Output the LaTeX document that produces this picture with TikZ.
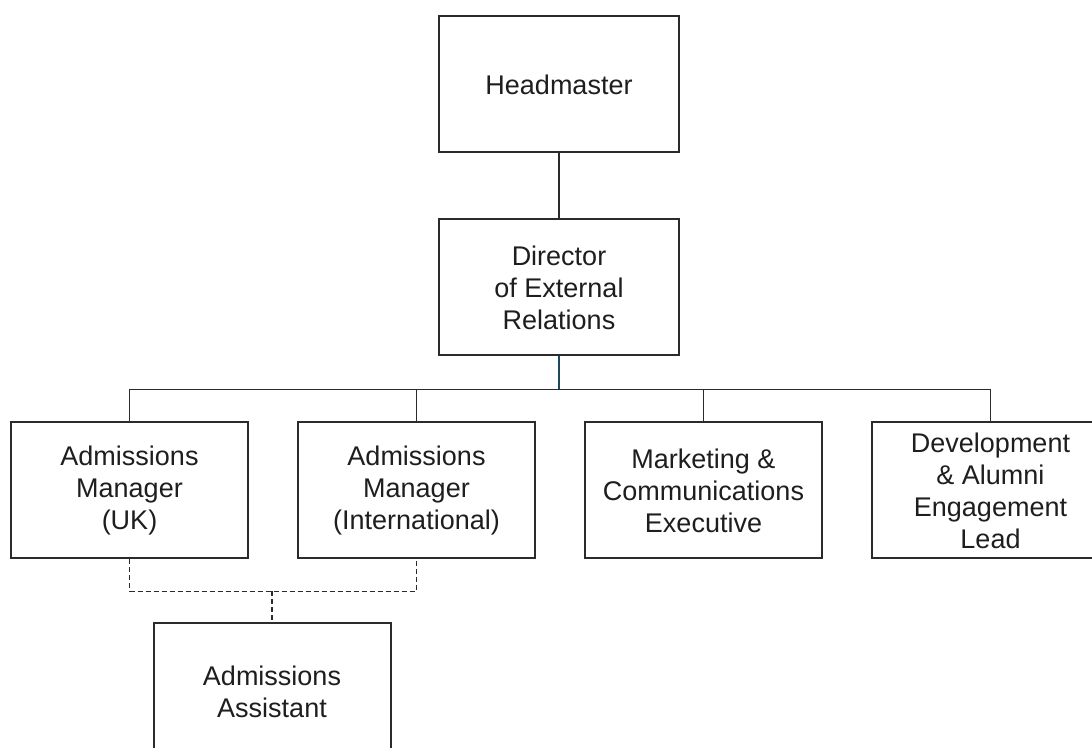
\documentclass[tikz,border=0pt]{standalone}
\usepackage{xcolor}
\usepackage{fontspec}
\setmainfont{Liberation Sans}
\usepackage{tikz}
\usetikzlibrary{positioning, calc}

\definecolor{boxline}{HTML}{2B2B2B}
\definecolor{textgrey}{HTML}{1E1E1E}
\definecolor{tealline}{HTML}{1C4A5C}

\begin{document}
\begin{tikzpicture}[x=1pt, y=1pt,
    orgbox/.style={draw=boxline, line width=2pt, fill=white, rectangle, minimum width=237pt, minimum height=136pt, align=center, inner sep=0pt, text=textgrey, font=\fontsize{27pt}{32pt}\selectfont},
    topbox/.style={orgbox, minimum width=240pt},
    orgline/.style={draw=boxline, line width=1.8pt},
    dashline/.style={draw=boxline, line width=1.5pt, dash pattern=on 5pt off 3pt}]

    \useasboundingbox (0,0) rectangle (1092,747);
    \clip (0,0) rectangle (1092,747);

    % Nodes
    \node[topbox] (head) at (559,662.5) {Headmaster};

    \node[topbox, below=65pt of head] (dir) {Director\\of External\\Relations};

    \node[orgbox, below=65pt of dir, xshift=-142.5pt] (intl) {Admissions\\Manager\\(International)};
    \node[orgbox, left=48pt of intl] (uk) {Admissions\\Manager\\(UK)};
    \node[orgbox, right=48pt of intl] (mkt) {Marketing \&\\Communications\\Executive};
    \node[orgbox, right=48pt of mkt] (dev) {Development\\\& Alumni\\Engagement\\Lead};

    \node[orgbox, below=63pt of uk, xshift=142.5pt] (asst) {Admissions\\Assistant};

    % Reporting lines
    \draw[orgline] (head) -- (dir);

    \coordinate (bus) at ([yshift=-33pt]dir.south);
    \draw[orgline] (uk.north) |- (bus) -| (dev.north);
    \foreach \n in {intl, mkt}
        \draw[orgline] (\n.north) -- (\n.north |- bus);
    \draw[line width=1.8pt, draw=tealline] (dir.south) -- (bus);

    % Shared assistant
    \coordinate (asstjoin) at ([yshift=-32pt]uk.south -| asst.north);
    \draw[dashline] (uk.south) |- (asstjoin) -| (intl.south);
    \draw[dashline] (asstjoin) -- (asst.north);

\end{tikzpicture}
\end{document}
